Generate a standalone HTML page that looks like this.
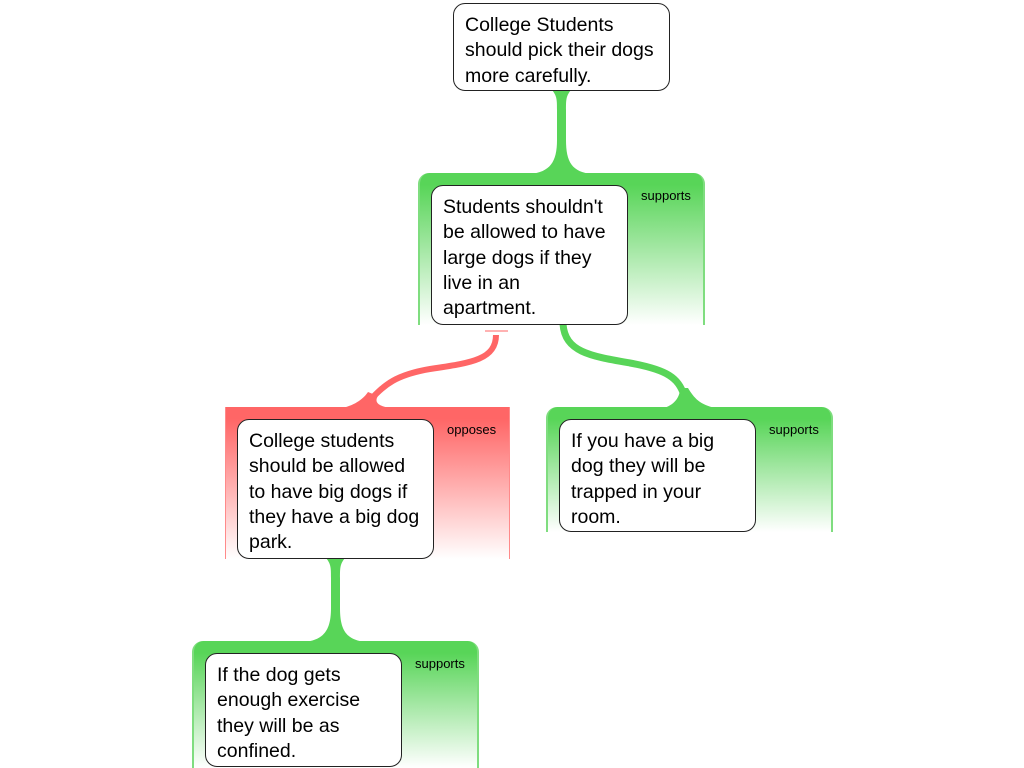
<!DOCTYPE html>
<html><head><meta charset="utf-8"><style>
body{margin:0;width:1024px;height:768px;background:#fff;position:relative;overflow:hidden;font-family:"Liberation Sans",Arial,sans-serif}
.c{position:absolute;box-sizing:border-box}
.g{background:linear-gradient(to bottom,#58d558 0px,#58d558 12px,#9be59b 45%,#ffffff 100%);border-left:2px solid #7fdd7f;border-right:2px solid #7fdd7f;border-radius:11px 11px 0 0}
.r{background:linear-gradient(to bottom,#ff6666 0px,#ff6666 12px,#ffa3a3 45%,#ffffff 100%);border-left:1px solid #ff8a8a;border-right:1px solid #ff8a8a}
.b{position:absolute;box-sizing:border-box;background:#fff;border:1px solid #222;border-radius:12px;padding:9px 4px 7px 11px;font-size:19.5px;line-height:25.3px;color:#000;white-space:nowrap}
.l{position:absolute;font-size:13px;color:#000}
svg{position:absolute;left:0;top:0}
</style></head><body>
<svg width="1024" height="768">
<path d="M552,90 L571,90 C566,96 566,100 566,110 L566,140 C566,162 572,172 592,174 L530,174 C550,172 557,162 557,140 L557,110 C557,100 557,96 552,90 Z" fill="#58d558"/>
<path d="M326,558 L345,558 C340,564 340,568 340,578 L340,608 C340,630 346,640 366,642 L304,642 C324,640 331,630 331,608 L331,578 C331,568 331,564 326,558 Z" fill="#58d558"/>
<path d="M563,324 C565,352 590,356 630,363 C668,370 678,378 684,395" fill="none" stroke="#58d558" stroke-width="7"/>
<path d="M664,408 C676,404 680,396 680,388 L688,388 C694,398 700,405 716,408 Z" fill="#58d558"/>
<path d="M496,335 C496,360 470,363 430,369 C395,375 385,385 372,398" fill="none" stroke="#ff6666" stroke-width="6"/>
<path d="M342,408 C356,405 364,398 368,392 L378,396 C374,402 378,406 390,408 Z" fill="#ff6666"/>
<line x1="485" y1="331" x2="508" y2="331" stroke="#ff9999" stroke-width="1.5"/>
</svg>
<div class="c g" style="left:418px;top:173px;width:287px;height:152px"></div>
<div class="c r" style="left:225px;top:407px;width:285px;height:152px"></div>
<div class="c g" style="left:546px;top:407px;width:287px;height:125px"></div>
<div class="c g" style="left:192px;top:641px;width:287px;height:127px"></div>

<div class="b" style="left:453px;top:3px;width:217px;height:88px">College Students<br>should pick their dogs<br>more carefully.</div>
<div class="b" style="left:431px;top:185px;width:197px;height:140px">Students shouldn't<br>be allowed to have<br>large dogs if they<br>live in an<br>apartment.</div>
<div class="l" style="left:641px;top:188px">supports</div>
<div class="b" style="left:237px;top:419px;width:197px;height:140px">College students<br>should be allowed<br>to have big dogs if<br>they have a big dog<br>park.</div>
<div class="l" style="left:447px;top:422px">opposes</div>
<div class="b" style="left:559px;top:419px;width:197px;height:113px">If you have a big<br>dog they will be<br>trapped in your<br>room.</div>
<div class="l" style="left:769px;top:422px">supports</div>
<div class="b" style="left:205px;top:653px;width:197px;height:114px">If the dog gets<br>enough exercise<br>they will be as<br>confined.</div>
<div class="l" style="left:415px;top:656px">supports</div>
</body></html>
